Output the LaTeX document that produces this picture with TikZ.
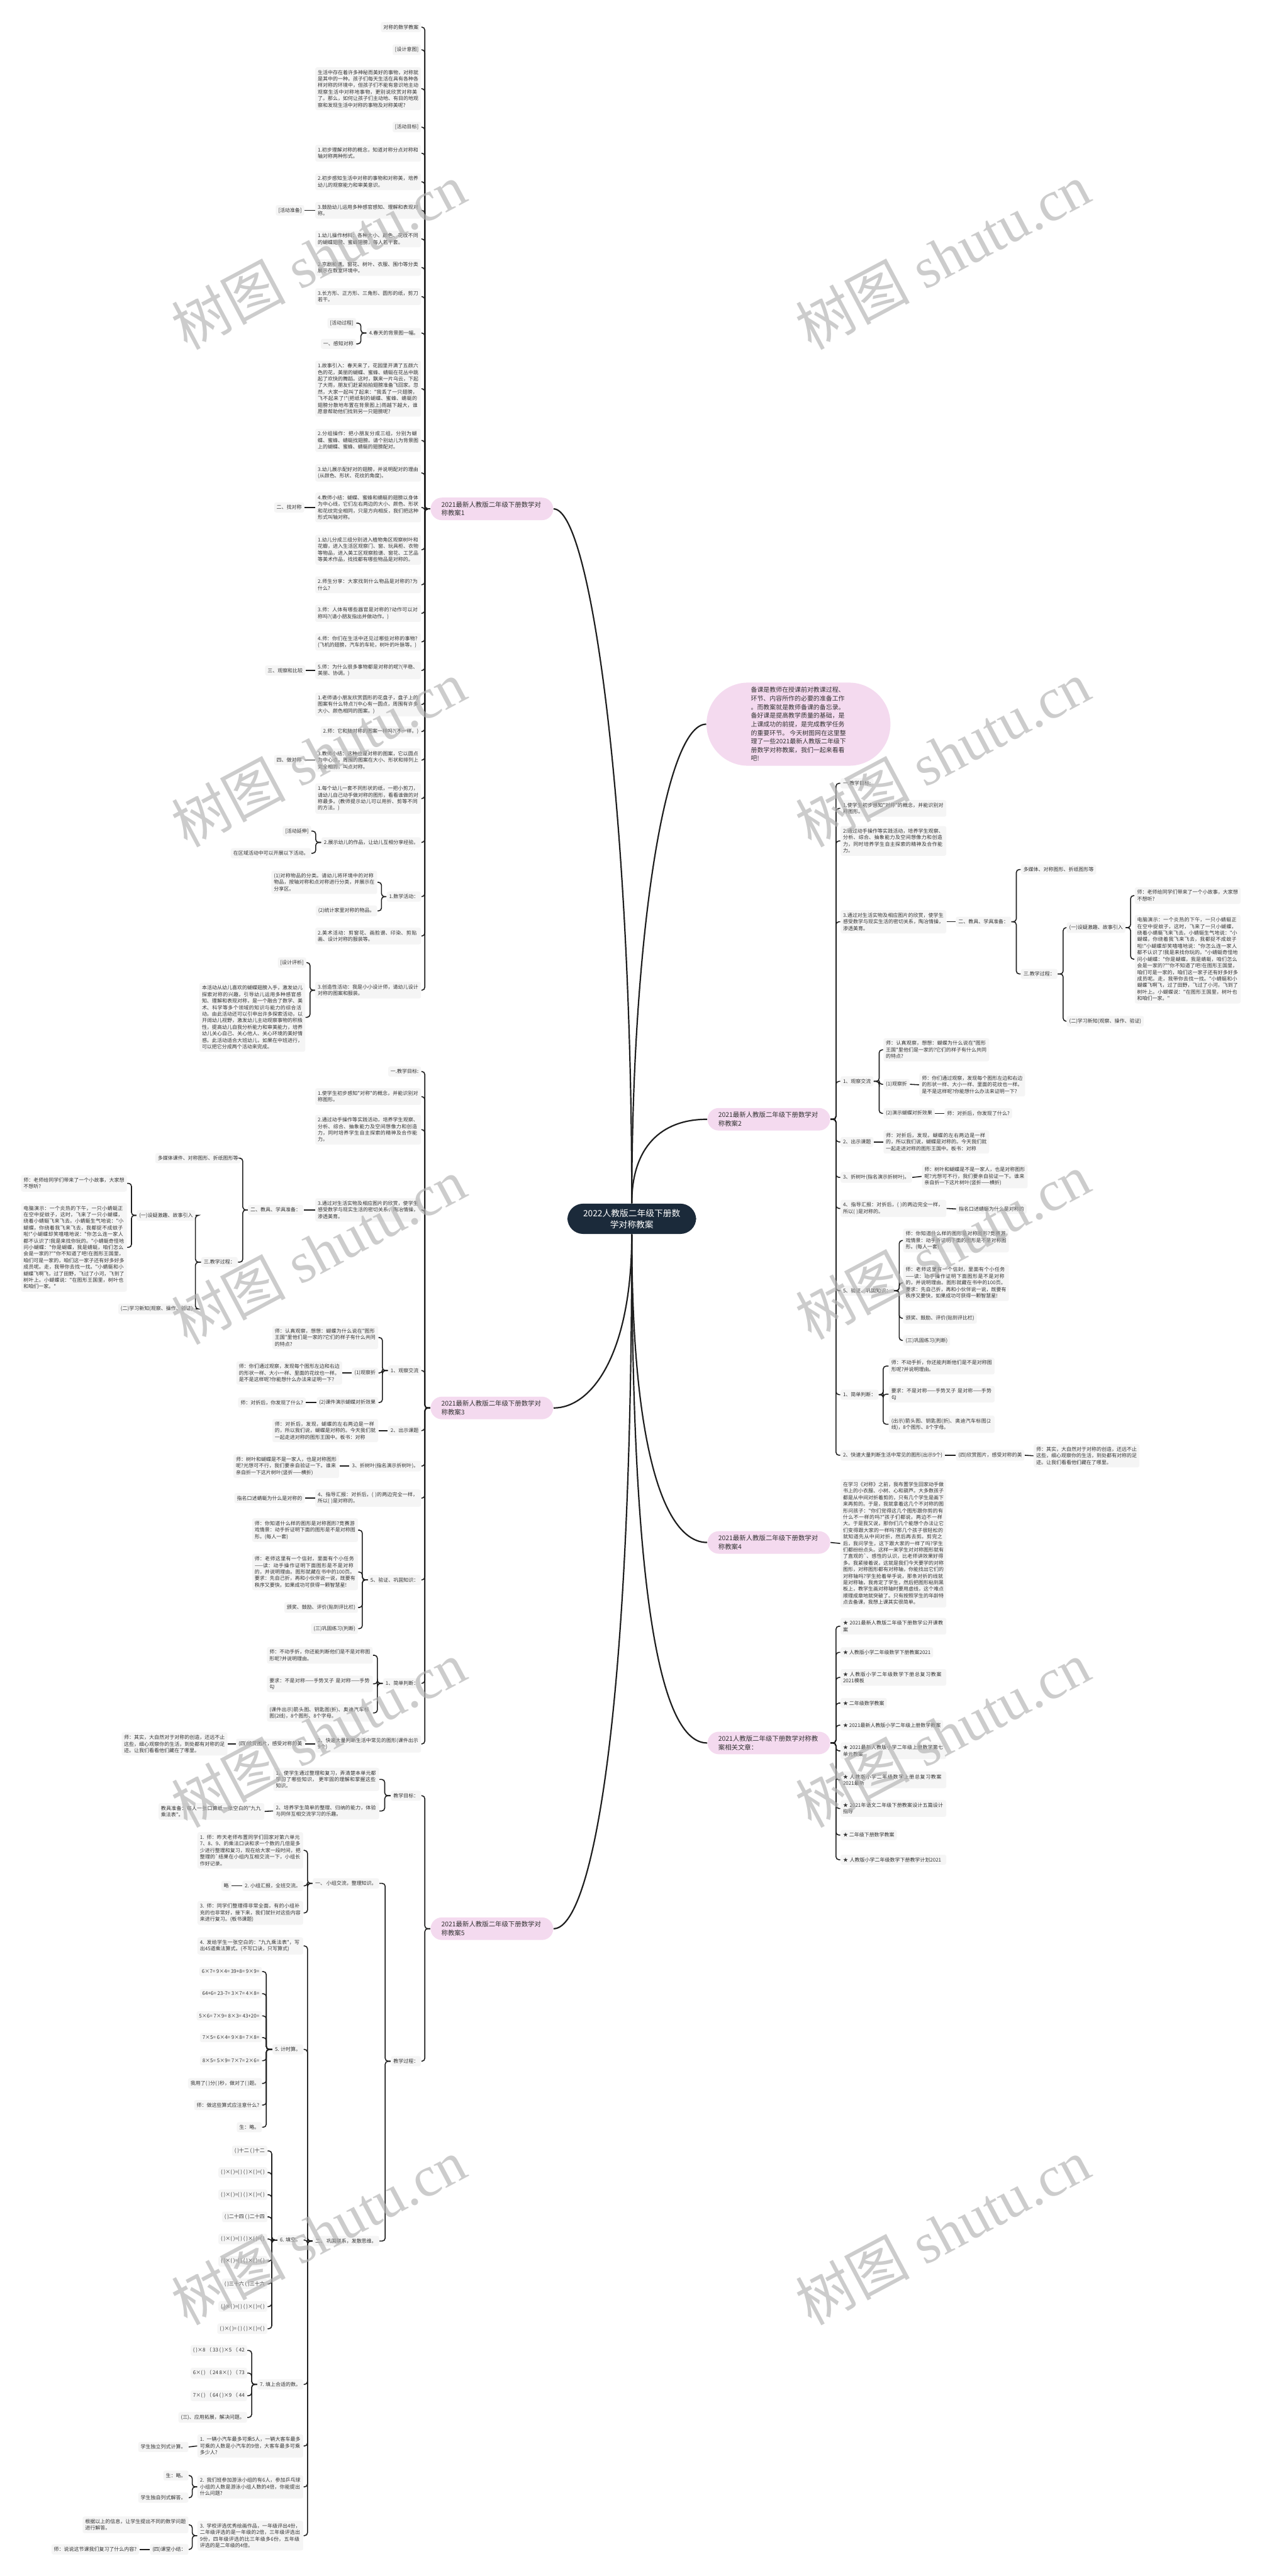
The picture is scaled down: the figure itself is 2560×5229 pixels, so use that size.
\documentclass[tikz,border=0pt]{standalone}
\usepackage{fontspec}
\newfontfamily\cjk{Noto Sans CJK SC}
\newfontfamily\wmfont{Liberation Serif}
\XeTeXlinebreaklocale "zh"
\XeTeXlinebreakskip=0pt plus 1pt
\definecolor{boxgrey}{HTML}{F5F5F5}
\definecolor{txtgrey}{HTML}{333333}
\definecolor{topicpink}{HTML}{F4DAEF}
\definecolor{rootnavy}{HTML}{1B2A3A}
\definecolor{linkc}{HTML}{1E1E1E}
\tikzset{
  notebase/.style={fill=boxgrey, rounded corners=0.4mm, text=txtgrey, inner xsep=0.5mm, inner ysep=0.55mm,
    font=\cjk\fontsize{2.9pt}{3.78pt}\selectfont},
  tagbox/.style={notebase},
  notebox/.style={notebase, text width=20.45mm, align=left},
  topicbox/.style={fill=topicpink, rounded corners=2.3mm, text=txtgrey, inner xsep=2.2mm, inner ysep=0.8mm,
    text width=20.5mm, align=left, font=\cjk\fontsize{3.78pt}{4.95pt}\selectfont},
  introbox/.style={fill=topicpink, rounded corners=8.4mm, text=txtgrey, inner xsep=9mm, inner ysep=0.9mm,
    align=left, font=\cjk\fontsize{3.61pt}{4.95pt}\selectfont},
  rootbox/.style={fill=rootnavy, rounded corners=3.2mm, text=white, inner xsep=3.2mm, inner ysep=1.1mm,
    align=center, font=\cjk\fontsize{5pt}{6.6pt}\selectfont},
  link/.style={draw=linkc, line width=0.2mm, rounded corners=0.6mm},
  trunk/.style={draw=linkc, line width=0.28mm},
  lhook/.style={to path={-- ++(-#1,0) |- (\tikztotarget)}}, lhook/.default=11,
  rhook/.style={to path={-- ++(#1,0) |- (\tikztotarget)}}, rhook/.default=11,
  wmark/.style={font=\wmfont\fontsize{33pt}{33pt}\selectfont, text=black!30, text opacity=0.65, rotate=28}
}
\begin{document}
\begin{tikzpicture}[x=0.1mm,y=-0.1mm]
\fill[white] (0,0) rectangle (2560,5229);
\useasboundingbox (0,0) rectangle (2560,5229);

% centre and intro
\node[rootbox] (root) at (1282,2474) {2022人教版二年级下册数\\学对称教案};
\node[introbox,anchor=west] (intro) at (1433,1470) {备课是教师在授课前对教课过程、\\环节、内容所作的必要的准备工作\\。而教案就是教师备课的备忘录。\\备好课是提高教学质量的基础，是\\上课成功的前提，是完成教学任务\\的重要环节。 今天树图网在这里整\\理了一些2021最新人教版二年级下\\册数学对称教案，我们一起来看看\\吧!};

% topic nodes
\node[topicbox,anchor=west] (p1) at (873,1033) {2021最新人教版二年级下册数学对\\称教案1};
\node[topicbox,anchor=west] (p2) at (1435,2272) {2021最新人教版二年级下册数学对\\称教案2};
\node[topicbox,anchor=west] (p3) at (873,2858) {2021最新人教版二年级下册数学对\\称教案3};
\node[topicbox,anchor=west] (p4) at (1435,3131) {2021最新人教版二年级下册数学对\\称教案4};
\node[topicbox,anchor=west] (p5) at (873,3915) {2021最新人教版二年级下册数学对\\称教案5};
\node[topicbox,anchor=west] (p6) at (1435,3538) {2021人教版二年级下册数学对称教\\案相关文章：};

% branch 1
\node[tagbox,anchor=east] (b1a) at (855,55) {对称的数学教案};
\node[tagbox,anchor=east] (b1b) at (855,101) {[设计意图]};
\node[notebox,anchor=east] (b1c) at (855,180) {生活中存在着许多神秘而美好的事物，对称就是其中的一种。孩子们每天生活在具有各种各样对称的环境中，但孩子们不能有意识地主动观察生活中对称地事物，更别说欣赏对称美了。那么，如何让孩子们主动地、有目的地观察和发现生活中对称的事物及对称美呢?};
\node[tagbox,anchor=east] (b1d) at (855,258) {[活动目标]};
\node[notebox,anchor=east] (b1e) at (855,311) {1.初步理解对称的概念，知道对称分点对称和轴对称两种形式。};
\node[notebox,anchor=east] (b1f) at (855,369) {2.初步感知生活中对称的事物和对称美，培养幼儿的观察能力和审美意识。};
\node[notebox,anchor=east] (b1g) at (855,427) {3.鼓励幼儿运用多种感官感知、理解和表现对称。};
\node[tagbox,anchor=east] (b1g1) at (618,427) {[活动准备]};
\node[notebox,anchor=east] (b1h) at (855,485) {1.幼儿操作材料：各种大小、颜色、花纹不同的蝴蝶翅膀、蜜蜂翅膀，每人若干套。};
\node[notebox,anchor=east] (b1i) at (855,543) {2.京剧脸谱、窗花、树叶、衣服、围巾等分类展示在教室环境中。};
\node[notebox,anchor=east] (b1j) at (855,602) {3.长方形、正方形、三角形、圆形的纸，剪刀若干。};
\node[tagbox,anchor=east] (b1k) at (855,676) {4.春天的背景图一幅。};
\node[tagbox,anchor=east] (b1k1) at (723,656) {[活动过程]};
\node[tagbox,anchor=east] (b1k2) at (723,698) {一、感知对称};
\node[notebox,anchor=east] (b1l) at (855,789) {1.故事引入：春天来了，花园里开满了五颜六色的花，美丽的蝴蝶、蜜蜂、蜻蜓在花丛中跳起了欢快的舞蹈。这时，飘来一片乌云，下起了大雨，朋友们赶紧拍拍翅膀准备飞回家。忽然，大家一起叫了起来："我丢了一只翅膀，飞不起来了!"(把纸制的蝴蝶、蜜蜂、蜻蜓的翅膀分散地布置在背景图上)雨越下越大，谁愿意帮助他们找到另一只翅膀呢?};
\node[notebox,anchor=east] (b1m) at (855,894) {2.分组操作：把小朋友分成三组，分别为蝴蝶、蜜蜂、蜻蜓找翅膀。请个别幼儿为背景图上的蝴蝶、蜜蜂、蜻蜓的翅膀配对。};
\node[notebox,anchor=east] (b1n) at (855,960) {3.幼儿展示配好对的翅膀，并说明配对的理由(从颜色、形状、花纹的角度)。};
\node[notebox,anchor=east] (b1o) at (855,1030) {4.教师小结：蝴蝶、蜜蜂和蜻蜓的翅膀以身体为中心线，它们左右两边的大小、颜色、形状和花纹完全相同，只是方向相反，我们把这种形式叫轴对称。};
\node[tagbox,anchor=east] (b1o1) at (618,1030) {二、找对称};
\node[notebox,anchor=east] (b1p) at (855,1116) {1.幼儿分成三组分别进入植物角区观察树叶和花瓣，进入生活区观察门、窗、玩具柜、衣物等物品，进入美工区观察脸谱、窗花、工艺品等美术作品，找找都有哪些物品是对称的。};
\node[notebox,anchor=east] (b1q) at (855,1187) {2.师生分享：大家找到什么物品是对称的?为什么?};
\node[notebox,anchor=east] (b1r) at (855,1245) {3.师：人体有哪些器官是对称的?动作可以对称吗?(请小朋友指出并做动作。)};
\node[notebox,anchor=east] (b1s) at (855,1303) {4.师：你们在生活中还见过哪些对称的事物?(飞机的翅膀，汽车的车轮，树叶的叶脉等。)};
\node[notebox,anchor=east] (b1t) at (855,1361) {5.师：为什么很多事物都是对称的呢?(平稳、美丽、协调。)};
\node[tagbox,anchor=east] (b1t1) at (620,1361) {三、观察和比较};
\node[notebox,anchor=east] (b1u) at (855,1430) {1.老师请小朋友欣赏圆形的花盘子，盘子上的图案有什么特点?(中心有一圆点，周围有许多大小、颜色相同的图案。)};
\node[tagbox,anchor=east] (b1v) at (855,1485) {2.师：它和轴对称的图案一样吗?(不一样。)};
\node[notebox,anchor=east] (b1w) at (855,1543) {3.教师小结：这种也是对称的图案，它以圆点为中心点，周围的图案在大小、形状和排列上完全相同，叫点对称。};
\node[tagbox,anchor=east] (b1w1) at (618,1543) {四、做对称};
\node[notebox,anchor=east] (b1x) at (855,1621) {1.每个幼儿一套不同形状的纸，一把小剪刀，请幼儿自己动手做对称的图形，看看谁做的对称最多。(教师提示幼儿可以用折、剪等不同的方法。)};
\node[tagbox,anchor=east] (b1y) at (855,1710) {2.展示幼儿的作品，让幼儿互相分享经验。};
\node[tagbox,anchor=east] (b1y1) at (632,1687) {[活动延伸]};
\node[tagbox,anchor=east] (b1y2) at (632,1732) {在区域活动中可以开展以下活动。};
\node[tagbox,anchor=east] (b1z) at (855,1820) {1.数学活动：};
\node[notebox,anchor=east] (b1z1) at (766,1791) {(1)对称物品的分类。请幼儿将环境中的对称物品，按轴对称和点对称进行分类，并展示在分享区。};
\node[tagbox,anchor=east] (b1z2) at (766,1849) {(2)统计家里对称的物品。};
\node[notebox,anchor=east] (b1A) at (855,1900) {2.美术活动：剪窗花、画脸谱、印染、剪贴画、设计对称的服装等。};
\node[notebox,anchor=east] (b1B) at (855,2010) {3.创造性活动：我是小小设计师，请幼儿设计对称的图案和服装。};
\node[tagbox,anchor=east] (b1B1) at (622,1954) {[设计评析]};
\node[notebox,anchor=east] (b1B2) at (620,2065) {本活动从幼儿喜欢的蝴蝶翅膀入手，激发幼儿探索对称的兴趣，引导幼儿运用多种感官感知、理解和表现对称，是一个融合了数学、美术、科学等多个领域的知识与能力的综合活动。由此活动还可以引申出许多探索活动，以开阔幼儿视野，激发幼儿主动观察事物的积极性，提高幼儿自我分析能力和审美能力，培养幼儿关心自己、关心他人、关心环境的美好情感。此活动适合大班幼儿，如果在中班进行，可以把它分成两个活动来完成。};

% branch 2
\node[tagbox,anchor=west] (c1) at (1705,1590) {一.教学目标:};
\node[notebox,anchor=west] (c2) at (1705,1641) {1.使学生初步感知"对称"的概念，并能识别对称图形。};
\node[notebox,anchor=west] (c3) at (1705,1707) {2.通过动手操作等实践活动，培养学生观察、分析、综合、抽象能力及空间想像力和创造力，同时培养学生自主探索的精神及合作能力。};
\node[notebox,anchor=west] (c4) at (1705,1871) {3.通过对生活实物及相应图片的欣赏，使学生感受数学与现实生活的密切关系，陶冶情操，渗透美育。};
\node[tagbox,anchor=west] (c4a) at (1939,1871) {二、教具、学具准备：};
\node[tagbox,anchor=west] (c4b) at (2071,1765) {多媒体、对称图形、折纸图形等};
\node[tagbox,anchor=west] (c4c) at (2071,1977) {三.教学过程：};
\node[tagbox,anchor=west] (c4d) at (2164,1883) {(一)设疑激趣、故事引入};
\node[tagbox,anchor=west] (c4e) at (2164,2073) {(二)学习新知(观察、操作、验证)};
\node[notebox,anchor=west] (c4f) at (2302,1818) {师：老师给同学们带来了一个小故事，大家想不想听?};
\node[notebox,anchor=west] (c4g) at (2302,1947) {电脑演示：一个炎热的下午，一只小蜻蜓正在空中捉蚊子，这时，飞来了一只小蝴蝶，绕着小蜻蜓飞来飞去。小蜻蜓生气地说："小蝴蝶，你绕着我飞来飞去，我都捉不成蚊子啦!"小蝴蝶却笑嘻嘻地说："你怎么连一家人都不认识了!我是来找你玩的。"小蜻蜓奇怪地问小蝴蝶："你是蝴蝶，我是蜻蜓，咱们怎么会是一家的?""你不知道了吧!在图形王国里，咱们可是一家的，咱们这一家子还有好多好多成员呢。走，我带你去找一找。"小蜻蜓和小蝴蝶飞啊飞，过了田野，飞过了小河，飞到了树叶上。小蝴蝶说："在图形王国里，树叶也和咱们一家。"};
\node[tagbox,anchor=west] (c5) at (1705,2195) {1、观察交流};
\node[notebox,anchor=west] (c5a) at (1792,2131) {师：认真观察，想想：蝴蝶为什么说在"图形王国"里他们是一家的?它们的样子有什么共同的特点?};
\node[tagbox,anchor=west] (c5b) at (1792,2201) {(1)观察折};
\node[notebox,anchor=west] (c5c) at (1865,2202) {师：你们通过观察，发现每个图形左边和右边的形状一样、大小一样、里面的花纹也一样。是不是这样呢?你能想什么办法来证明一下?};
\node[tagbox,anchor=west] (c5d) at (1792,2260) {(2)演示蝴蝶对折效果};
\node[tagbox,anchor=west] (c5e) at (1916,2260) {师：对折后，你发现了什么?};
\node[tagbox,anchor=west] (c6) at (1705,2318) {2、出示课题};
\node[notebox,anchor=west] (c6a) at (1792,2318) {师：对折后，发现，蝴蝶的左右两边是一样的，所以我们说，蝴蝶是对称的。今天我们就一起走进对称的图形王国中。板书：对称};
\node[tagbox,anchor=west] (c7) at (1705,2390) {3、折树叶(指名演示折树叶)。};
\node[notebox,anchor=west] (c7a) at (1870,2388) {师：树叶和蝴蝶是不是一家人，也是对称图形呢?光想可不行，我们要亲自验证一下。谁来亲自折一下这片树叶(竖折——横折)};
\node[notebox,anchor=west] (c8) at (1705,2453) {4、指导汇报：对折后，( )的两边完全一样，所以( )是对称的。};
\node[tagbox,anchor=west] (c8a) at (1940,2454) {指名口述蜻蜓为什么是对称的};
\node[tagbox,anchor=west] (c9) at (1705,2620) {5、验证、巩固知识：};
\node[notebox,anchor=west] (c9a) at (1832,2518) {师：你知道什么样的图形是对称图形?竞赛游戏情景：动手折证明下面的图形是不是对称图形。(每人一套)};
\node[notebox,anchor=west] (c9b) at (1832,2604) {师：老师这里有一个信封，里面有个小任务——读：动手操作证明下面图形是不是对称的，并说明理由。图形就藏在书中的100页。要求：先自己折，再和小伙伴说一说，既要有秩序又要快，如果成功可获得一颗智慧星!};
\node[tagbox,anchor=west] (c9c) at (1832,2676) {颁奖、鼓励、评价(贴到评比栏)};
\node[tagbox,anchor=west] (c9d) at (1832,2721) {(三)巩固练习(判断)};
\node[tagbox,anchor=west] (c10) at (1705,2831) {1、简单判断：};
\node[notebox,anchor=west] (c10a) at (1803,2773) {师：不动手折，你还能判断他们是不是对称图形呢?并说明理由。};
\node[notebox,anchor=west] (c10b) at (1803,2830) {要求：不是对称——手势叉子 是对称——手势勾};
\node[notebox,anchor=west] (c10c) at (1803,2891) {(出示)箭头图、钥匙图(折)、奥迪汽车标图(2线)，8个图形、8个字母。};
\node[tagbox,anchor=west] (c11) at (1705,2954) {2、快速大量判断生活中常见的图形(出示9个)};
\node[tagbox,anchor=west] (c11a) at (1939,2954) {(四)欣赏图片，感受对称的美};
\node[notebox,anchor=west] (c11b) at (2097,2955) {师：其实，大自然对于对称的创造，还远不止这些，细心观察你的生活，到处都有对称的足迹。让我们看看他们藏在了哪里。};

% branch 3
\node[tagbox,anchor=east] (b3a) at (855,2175) {一.教学目标:};
\node[notebox,anchor=east] (b3b) at (855,2226) {1.使学生初步感知"对称"的概念，并能识别对称图形。};
\node[notebox,anchor=east] (b3c) at (855,2293) {2.通过动手操作等实践活动，培养学生观察、分析、综合、抽象能力及空间想像力和创造力，同时培养学生自主探索的精神及合作能力。};
\node[notebox,anchor=east] (b3d) at (855,2456) {3.通过对生活实物及相应图片的欣赏，使学生感受数学与现实生活的密切关系，陶冶情操，渗透美育。};
\node[tagbox,anchor=east] (b3d1) at (616,2456) {二、教具、学具准备：};
\node[tagbox,anchor=east] (b3d2) at (489,2351) {多媒体课件、对称图形、折纸图形等};
\node[tagbox,anchor=east] (b3d3) at (483,2562) {三.教学过程：};
\node[tagbox,anchor=east] (b3d4) at (397,2467) {(一)设疑激趣、故事引入};
\node[tagbox,anchor=east] (b3d5) at (397,2657) {(二)学习新知(观察、操作、验证)};
\node[notebox,anchor=east] (b3d6) at (258,2402) {师：老师给同学们带来了一个小故事，大家想不想听?};
\node[notebox,anchor=east] (b3d7) at (258,2532) {电脑演示：一个炎热的下午，一只小蜻蜓正在空中捉蚊子，这时，飞来了一只小蝴蝶，绕着小蜻蜓飞来飞去。小蜻蜓生气地说："小蝴蝶，你绕着我飞来飞去，我都捉不成蚊子啦!"小蝴蝶却笑嘻嘻地说："你怎么连一家人都不认识了!我是来找你玩的。"小蜻蜓奇怪地问小蝴蝶："你是蝴蝶，我是蜻蜓，咱们怎么会是一家的?""你不知道了吧!在图形王国里，咱们可是一家的，咱们这一家子还有好多好多成员呢。走，我带你去找一找。"小蜻蜓和小蝴蝶飞啊飞，过了田野，飞过了小河，飞到了树叶上。小蝴蝶说："在图形王国里，树叶也和咱们一家。"};
\node[tagbox,anchor=east] (b3e) at (855,2782) {1、观察交流};
\node[notebox,anchor=east] (b3e1) at (768,2715) {师：认真观察，想想：蝴蝶为什么说在"图形王国"里他们是一家的?它们的样子有什么共同的特点?};
\node[tagbox,anchor=east] (b3e2) at (768,2787) {(1)观察折};
\node[notebox,anchor=east] (b3e3) at (695,2787) {师：你们通过观察，发现每个图形左边和右边的形状一样、大小一样、里面的花纹也一样。是不是这样呢?你能想什么办法来证明一下?};
\node[tagbox,anchor=east] (b3e4) at (768,2847) {(2)课件演示蝴蝶对折效果};
\node[tagbox,anchor=east] (b3e5) at (621,2847) {师：对折后，你发现了什么?};
\node[tagbox,anchor=east] (b3f) at (855,2904) {2、出示课题};
\node[notebox,anchor=east] (b3f1) at (768,2904) {师：对折后，发现，蝴蝶的左右两边是一样的，所以我们说，蝴蝶是对称的。今天我们就一起走进对称的图形王国中。板书：对称};
\node[tagbox,anchor=east] (b3g) at (855,2976) {3、折树叶(指名演示折树叶)。};
\node[notebox,anchor=east] (b3g1) at (689,2976) {师：树叶和蝴蝶是不是一家人，也是对称图形呢?光想可不行，我们要亲自验证一下。谁来亲自折一下这片树叶(竖折——横折)};
\node[notebox,anchor=east] (b3h) at (855,3041) {4、指导汇报：对折后，( )的两边完全一样，所以( )是对称的。};
\node[tagbox,anchor=east] (b3h1) at (619,3041) {指名口述蜻蜓为什么是对称的};
\node[tagbox,anchor=east] (b3i) at (855,3207) {5、验证、巩固知识：};
\node[notebox,anchor=east] (b3i1) at (727,3106) {师：你知道什么样的图形是对称图形?竞赛游戏情景：动手折证明下面的图形是不是对称图形。(每人一套)};
\node[notebox,anchor=east] (b3i2) at (727,3191) {师：老师这里有一个信封，里面有个小任务——读：动手操作证明下面图形是不是对称的，并说明理由。图形就藏在书中的100页。要求：先自己折，再和小伙伴说一说，既要有秩序又要快，如果成功可获得一颗智慧星!};
\node[tagbox,anchor=east] (b3i3) at (727,3263) {颁奖、鼓励、评价(贴到评比栏)};
\node[tagbox,anchor=east] (b3i4) at (727,3306) {(三)巩固练习(判断)};
\node[tagbox,anchor=east] (b3j) at (855,3417) {1、简单判断：};
\node[notebox,anchor=east] (b3j1) at (757,3360) {师：不动手折，你还能判断他们是不是对称图形呢?并说明理由。};
\node[notebox,anchor=east] (b3j2) at (757,3418) {要求：不是对称——手势叉子 是对称——手势勾};
\node[notebox,anchor=east] (b3j3) at (757,3477) {(课件出示)箭头图、钥匙图(折)、奥迪汽车标图(2线)，8个图形、8个字母。};
\node[notebox,anchor=east] (b3k) at (855,3540) {2、快速大量判断生活中常见的图形(课件出示9个)};
\node[tagbox,anchor=east] (b3k1) at (619,3540) {(四)欣赏图片，感受对称的美};
\node[notebox,anchor=east] (b3k2) at (462,3540) {师：其实，大自然对于对称的创造，还远不止这些，细心观察你的生活，到处都有对称的足迹。让我们看看他们藏在了哪里。};

% branch 4
\node[notebox,anchor=west] (d1) at (1705,3133) {在学习《对称》之前，我布置学生回家动手做书上的小衣服、小树、心和葫芦。大多数孩子都是从中间对折着剪的，只有几个学生是画下来再剪的。于是，我就拿着这几个不对称的图形问孩子："你们觉得这几个图形跟你剪的有什么不一样的吗?"孩子们都说，两边不一样大。于是我又说，那你们几个能想个办法让它们变得跟大家的一样吗?那几个孩子很轻松的就知道先从中间对折，然后再去剪。剪完之后，我问学生，这下跟大家的一样了吗?学生们都纷纷点头。这样一来学生对对称图形就有了直观的`、感性的认识，比老师讲效果好得多。我紧接着说，这就是我们今天要学的对称图形，对称图形都有对称轴，你能找出它们的对称轴吗?学生抢着举手说，那条对折的线就是对称轴，我肯定了学生，然后把图形粘到黑板上，教学生画对称轴时要用虚线，这个难点顺理成章地就突破了。只有按照学生的年龄特点去备课，我想上课其实很简单。};

% branch 6
\node[notebox,anchor=west] (e1) at (1705,3301) {★ 2021最新人教版二年级下册数学公开课教案};
\node[tagbox,anchor=west] (e2) at (1705,3354) {★ 人教版小学二年级数学下册教案2021};
\node[notebox,anchor=west] (e3) at (1705,3405) {★ 人教版小学二年级数学下册总复习教案2021模板};
\node[tagbox,anchor=west] (e4) at (1705,3457) {★ 二年级数学教案};
\node[tagbox,anchor=west] (e5) at (1705,3502) {★ 2021最新人教版小学二年级上册数学教案};
\node[notebox,anchor=west] (e6) at (1705,3554) {★ 2021最新人教版小学二年级上册数学第七单元教案};
\node[notebox,anchor=west] (e7) at (1705,3613) {★ 人教版小学二年级数学上册总复习教案2021最新};
\node[notebox,anchor=west] (e8) at (1705,3671) {★ 2021年语文二年级下册教案设计五篇设计指导};
\node[tagbox,anchor=west] (e9) at (1705,3725) {★ 二年级下册数学教案};
\node[notebox,anchor=west] (e10) at (1705,3775) {★ 人教版小学二年级数学下册教学计划2021};

% branch 5
\node[tagbox,anchor=east] (b5a) at (855,3645) {教学目标：};
\node[notebox,anchor=east] (b5a1) at (770,3612) {1、使学生通过整理和复习，弄清楚本单元都学习了哪些知识， 更牢固的理解和掌握这些知识。};
\node[notebox,anchor=east] (b5a2) at (770,3676) {2、培养学生简单的整理、归纳的能力，体验与同伴互相交流学习的乐趣。};
\node[notebox,anchor=east] (b5a3) at (537,3677) {教具准备：每人一张口算纸一张空白的"九九乘法表"。};
\node[tagbox,anchor=east] (b5b) at (855,4184) {教学过程：};
\node[tagbox,anchor=east] (b5b1) at (770,3823) {一、 小组交流，整理知识。};
\node[tagbox,anchor=east] (b5b2) at (770,4549) {二、 巩固联系，发散思维。};
\node[notebox,anchor=east] (b5c1) at (616,3756) {1. 师：昨天老师布置同学们回家对第六单元7、8、9、的乘法口诀和求一个数的几倍是多少进行整理和复习，现在给大家一段时间，把整理的`结果在小组内互相交流一下，小组长作好记录。};
\node[tagbox,anchor=east] (b5c2) at (616,3828) {2. 小组汇报，全班交流。};
\node[tagbox,anchor=east] (b5c2a) at (470,3828) {略};
\node[notebox,anchor=east] (b5c3) at (616,3883) {3. 师：同学们整理得非常全面，有的小组补充的也非常好，接下来，我们就针对这些内容来进行复习。(板书课题)};
\node[notebox,anchor=east] (b5d1) at (616,3950) {4. 发给学生一张空白的："九九乘法表"，写出45道乘法算式。(不写口诀，只写算式)};
\node[tagbox,anchor=east] (b5d2) at (616,4160) {5. 计时算。};
\node[tagbox,anchor=east] (b5e1) at (532,4002) {6×7= 9×4= 39+8= 9×9=};
\node[tagbox,anchor=east] (b5e2) at (532,4047) {64+6= 23-7= 3×7= 4×8=};
\node[tagbox,anchor=east] (b5e3) at (532,4092) {5×6= 7×9= 8×3= 43+20=};
\node[tagbox,anchor=east] (b5e4) at (532,4136) {7×5= 6×4= 9×8= 7×8=};
\node[tagbox,anchor=east] (b5e5) at (532,4183) {8×5= 5×9= 7×7= 2×6=};
\node[tagbox,anchor=east] (b5e6) at (532,4229) {我用了( )分( )秒，做对了( )题。};
\node[tagbox,anchor=east] (b5e7) at (532,4273) {师：做这些算式应注意什么?};
\node[tagbox,anchor=east] (b5e8) at (532,4318) {生：略。};
\node[tagbox,anchor=east] (b5d3) at (616,4547) {6. 填空。};
\node[tagbox,anchor=east] (b5f1) at (543,4366) {( )十二 ( )十二};
\node[tagbox,anchor=east] (b5f2) at (543,4410) {( )×( )=( ) ( )×( )=( )};
\node[tagbox,anchor=east] (b5f3) at (543,4455) {( )×( )=( ) ( )×( )=( )};
\node[tagbox,anchor=east] (b5f4) at (543,4500) {( )二十四 ( )二十四};
\node[tagbox,anchor=east] (b5f5) at (543,4545) {( )×( )=( ) ( )×( )=( )};
\node[tagbox,anchor=east] (b5f6) at (543,4590) {( )×( )=( ) ( )×( )=( )};
\node[tagbox,anchor=east] (b5f7) at (543,4636) {( )三十六 ( )三十六};
\node[tagbox,anchor=east] (b5f8) at (543,4682) {( )×( )=( ) ( )×( )=( )};
\node[tagbox,anchor=east] (b5f9) at (543,4727) {( )×( )= ( ) ( )×( )=( )};
\node[tagbox,anchor=east] (b5d4) at (616,4840) {7. 填上合适的数。};
\node[tagbox,anchor=east] (b5g1) at (502,4771) {( )×8 （ 33 ( )×5 （ 42};
\node[tagbox,anchor=east] (b5g2) at (502,4817) {6×( ) （ 24 8×( ) （ 73};
\node[tagbox,anchor=east] (b5g3) at (502,4863) {7×( ) （ 64 ( )×9 （ 44};
\node[tagbox,anchor=east] (b5g4) at (502,4907) {(三)、应用拓展，解决问题。};
\node[notebox,anchor=east] (b5d5) at (616,4965) {1. 一辆小汽车最多可乘5人，一辆大客车最多可乘的人数是小汽车的9倍，大客车最多可乘多少人?};
\node[tagbox,anchor=east] (b5h1) at (383,4967) {学生独立列式计算。};
\node[notebox,anchor=east] (b5d6) at (616,5048) {2. 我们班参加游泳小组的有6人，参加乒乓球小组的人数是游泳小组人数的4倍，你能提出什么问题?};
\node[tagbox,anchor=east] (b5h2) at (383,5025) {生：略。};
\node[tagbox,anchor=east] (b5h3) at (383,5070) {学生独自列式解答。};
\node[notebox,anchor=east] (b5d7) at (616,5147) {3. 学校评选优秀绘画作品，一年级评出4份，二年级评选的是一年级的2倍，三年级评选出9份，四年级评选的比三年级多6份，五年级评选的是二年级的4倍。};
\node[notebox,anchor=east] (b5h4) at (383,5125) {根据以上的信息，让学生提出不同的数学问题进行解答。};
\node[tagbox,anchor=east] (b5h5) at (383,5175) {(四)课堂小结：};
\node[tagbox,anchor=east] (b5h6) at (283,5175) {师：说说这节课我们复习了什么内容?};

% trunk curves
\draw[trunk] (root.north) .. controls (1282,1900) and (1350,1470) .. (intro.west);
\draw[trunk] (root.north) .. controls (1282,1650) and (1200,1033) .. (p1.east);
\draw[trunk] (root.north) .. controls (1282,2330) and (1340,2272) .. (p2.west);
\draw[trunk] (root.south) .. controls (1282,2750) and (1200,2858) .. (p3.east);
\draw[trunk] (root.south) .. controls (1282,2950) and (1350,3131) .. (p4.west);
\draw[trunk] (root.south) .. controls (1282,3300) and (1350,3538) .. (p6.west);
\draw[trunk] (root.south) .. controls (1282,3500) and (1200,3915) .. (p5.east);

% branch 1 links
\draw[link] (p1.west) edge[lhook] (b1a.east) edge[lhook] (b1b.east) edge[lhook] (b1c.east) edge[lhook] (b1d.east)
  edge[lhook] (b1e.east) edge[lhook] (b1f.east) edge[lhook] (b1g.east) edge[lhook] (b1h.east) edge[lhook] (b1i.east)
  edge[lhook] (b1j.east) edge[lhook] (b1k.east) edge[lhook] (b1l.east) edge[lhook] (b1m.east) edge[lhook] (b1n.east)
  edge[lhook] (b1o.east) edge[lhook] (b1p.east) edge[lhook] (b1q.east) edge[lhook] (b1r.east) edge[lhook] (b1s.east)
  edge[lhook] (b1t.east) edge[lhook] (b1u.east) edge[lhook] (b1v.east) edge[lhook] (b1w.east) edge[lhook] (b1x.east)
  edge[lhook] (b1y.east) edge[lhook] (b1z.east) edge[lhook] (b1A.east) edge[lhook] (b1B.east);
\draw[link] (b1g.west) -- (b1g1.east);
\draw[link] (b1k.west) edge[lhook] (b1k1.east) edge[lhook] (b1k2.east);
\draw[link] (b1o.west) -- (b1o1.east);
\draw[link] (b1t.west) -- (b1t1.east);
\draw[link] (b1w.west) -- (b1w1.east);
\draw[link] (b1y.west) edge[lhook] (b1y1.east) edge[lhook] (b1y2.east);
\draw[link] (b1z.west) edge[lhook=10] (b1z1.east) edge[lhook=10] (b1z2.east);
\draw[link] (b1B.west) edge[lhook=10] (b1B1.east) edge[lhook=10] (b1B2.east);

% branch 2 links
\draw[link] (p2.east) edge[rhook] (c1.west) edge[rhook] (c2.west) edge[rhook] (c3.west) edge[rhook] (c4.west)
  edge[rhook] (c5.west) edge[rhook] (c6.west) edge[rhook] (c7.west) edge[rhook] (c8.west) edge[rhook] (c9.west)
  edge[rhook] (c10.west) edge[rhook] (c11.west);
\draw[link] (c4.east) -- (c4a.west);
\draw[link] (c4a.east) edge[rhook=10] (c4b.west) edge[rhook=10] (c4c.west);
\draw[link] (c4c.east) edge[rhook] (c4d.west) edge[rhook] (c4e.west);
\draw[link] (c4d.east) edge[rhook=10] (c4f.west) edge[rhook=10] (c4g.west);
\draw[link] (c5.east) edge[rhook] (c5a.west) edge[rhook] (c5b.west) edge[rhook] (c5d.west);
\draw[link] (c5b.east) -- (c5c.west);
\draw[link] (c5d.east) -- (c5e.west);
\draw[link] (c6.east) -- (c6a.west);
\draw[link] (c7.east) -- (c7a.west);
\draw[link] (c8.east) -- (c8a.west);
\draw[link] (c9.east) edge[rhook] (c9a.west) edge[rhook] (c9b.west) edge[rhook] (c9c.west) edge[rhook] (c9d.west);
\draw[link] (c10.east) edge[rhook=9] (c10a.west) edge[rhook=9] (c10b.west) edge[rhook=9] (c10c.west);
\draw[link] (c11.east) -- (c11a.west);
\draw[link] (c11a.east) -- (c11b.west);

% branch 3 links
\draw[link] (p3.west) edge[lhook] (b3a.east) edge[lhook] (b3b.east) edge[lhook] (b3c.east) edge[lhook] (b3d.east)
  edge[lhook] (b3e.east) edge[lhook] (b3f.east) edge[lhook] (b3g.east) edge[lhook] (b3h.east) edge[lhook] (b3i.east)
  edge[lhook] (b3j.east) edge[lhook] (b3k.east);
\draw[link] (b3d.west) -- (b3d1.east);
\draw[link] (b3d1.west) edge[lhook=10] (b3d2.east) edge[lhook=10] (b3d3.east);
\draw[link] (b3d3.west) edge[lhook] (b3d4.east) edge[lhook] (b3d5.east);
\draw[link] (b3d4.west) edge[lhook=10] (b3d6.east) edge[lhook=10] (b3d7.east);
\draw[link] (b3e.west) edge[lhook] (b3e1.east) edge[lhook] (b3e2.east) edge[lhook] (b3e4.east);
\draw[link] (b3e2.west) -- (b3e3.east);
\draw[link] (b3e4.west) -- (b3e5.east);
\draw[link] (b3f.west) -- (b3f1.east);
\draw[link] (b3g.west) -- (b3g1.east);
\draw[link] (b3h.west) -- (b3h1.east);
\draw[link] (b3i.west) edge[lhook] (b3i1.east) edge[lhook] (b3i2.east) edge[lhook] (b3i3.east) edge[lhook] (b3i4.east);
\draw[link] (b3j.west) edge[lhook] (b3j1.east) edge[lhook] (b3j2.east) edge[lhook] (b3j3.east);
\draw[link] (b3k.west) -- (b3k1.east);
\draw[link] (b3k1.west) -- (b3k2.east);

% branch 4 and 6 links
\draw[link] (p4.east) -- (d1.west);
\draw[link] (p6.east) edge[rhook] (e1.west) edge[rhook] (e2.west) edge[rhook] (e3.west) edge[rhook] (e4.west)
  edge[rhook] (e5.west) edge[rhook] (e6.west) edge[rhook] (e7.west) edge[rhook] (e8.west) edge[rhook] (e9.west)
  edge[rhook] (e10.west);

% branch 5 links
\draw[link] (p5.west) edge[lhook] (b5a.east) edge[lhook] (b5b.east);
\draw[link] (b5a.west) edge[lhook=12] (b5a1.east) edge[lhook=12] (b5a2.east);
\draw[link] (b5a2.west) -- (b5a3.east);
\draw[link] (b5b.west) edge[lhook] (b5b1.east) edge[lhook] (b5b2.east);
\draw[link] (b5b1.west) edge[lhook=10] (b5c1.east) edge[lhook=10] (b5c2.east) edge[lhook=10] (b5c3.east);
\draw[link] (b5c2.west) -- (b5c2a.east);
\draw[link] (b5b2.west) edge[lhook=10] (b5d1.east) edge[lhook=10] (b5d2.east) edge[lhook=10] (b5d3.east)
  edge[lhook=10] (b5d4.east) edge[lhook=10] (b5d5.east) edge[lhook=10] (b5d6.east) edge[lhook=10] (b5d7.east);
\draw[link] (b5d2.west) edge[lhook=12] (b5e1.east) edge[lhook=12] (b5e2.east) edge[lhook=12] (b5e3.east)
  edge[lhook=12] (b5e4.east) edge[lhook=12] (b5e5.east) edge[lhook=12] (b5e6.east) edge[lhook=12] (b5e7.east)
  edge[lhook=12] (b5e8.east);
\draw[link] (b5d3.west) edge[lhook] (b5f1.east) edge[lhook] (b5f2.east) edge[lhook] (b5f3.east) edge[lhook] (b5f4.east)
  edge[lhook] (b5f5.east) edge[lhook] (b5f6.east) edge[lhook] (b5f7.east) edge[lhook] (b5f8.east) edge[lhook] (b5f9.east);
\draw[link] (b5d4.west) edge[lhook] (b5g1.east) edge[lhook] (b5g2.east) edge[lhook] (b5g3.east) edge[lhook] (b5g4.east);
\draw[link] (b5d5.west) -- (b5h1.east);
\draw[link] (b5d6.west) edge[lhook=10] (b5h2.east) edge[lhook=10] (b5h3.east);
\draw[link] (b5d7.west) edge[lhook=10] (b5h4.east) edge[lhook=10] (b5h5.east);
\draw[link] (b5h5.west) -- (b5h6.east);

% watermarks
\node[wmark] (w1) at (646,520) {{\cjk 树图} shutu.cn};
\node[wmark] (w2) at (1913,520) {{\cjk 树图} shutu.cn};
\node[wmark] (w3) at (646,1530) {{\cjk 树图} shutu.cn};
\node[wmark] (w4) at (1913,1530) {{\cjk 树图} shutu.cn};
\node[wmark] (w5) at (646,2540) {{\cjk 树图} shutu.cn};
\node[wmark] (w6) at (1913,2530) {{\cjk 树图} shutu.cn};
\node[wmark] (w7) at (646,3520) {{\cjk 树图} shutu.cn};
\node[wmark] (w8) at (1913,3520) {{\cjk 树图} shutu.cn};
\node[wmark] (w9) at (646,4530) {{\cjk 树图} shutu.cn};
\node[wmark] (w10) at (1913,4530) {{\cjk 树图} shutu.cn};
\end{tikzpicture}
\end{document}
